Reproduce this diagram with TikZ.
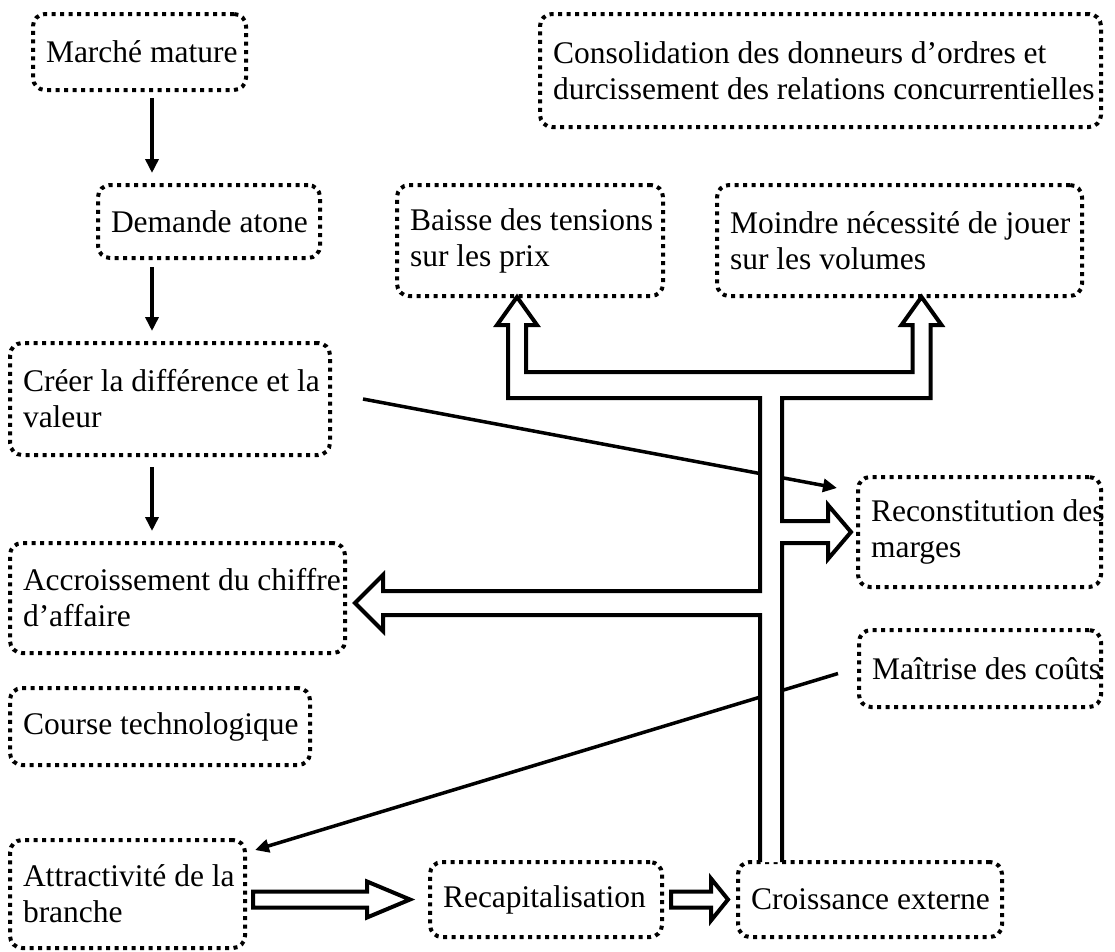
\documentclass[tikz,border=0pt]{standalone}
\usepackage{fontspec}
\setmainfont{Liberation Serif}
\usetikzlibrary{arrows.meta,calc}
\hyphenpenalty=10000
\exhyphenpenalty=10000

\begin{document}
\begin{tikzpicture}[x=1pt,y=-1pt,>={Triangle[length=14pt,width=13pt]},
  box/.style={draw,line width=4pt,dash pattern=on 4pt off 4.5pt,rounded corners=12pt,
    align=flush left,inner xsep=13pt,inner ysep=4pt,outer sep=0pt,anchor=north west,
    font=\fontsize{31.5}{36}\selectfont,
    execute at begin node={\spaceskip=\fontdimen2\font\relax}},
  link/.style={->,line width=3.5pt},
  fat/.style={line width=4pt,fill=white,line join=miter}]
  \useasboundingbox (0,0) rectangle (1115,951);
  % ---- boxes, left column (text width = box width - 26)
  \node[box,text width=187pt,minimum height=76pt] (marche) at (33,14) {Marché~mature};
  \node[box,text width=196pt,minimum height=73pt] (demande) at (98,185) {Demande~atone};
  \node[box,text width=294pt,minimum height=112pt] (creer) at (10,343) {Créer~la~différence~et~la\\valeur};
  \node[box,text width=309pt,minimum height=110pt] (accr) at (10,543) {Accroissement~du~chiffre\\d’affaire};
  \node[box,text width=274pt,minimum height=77pt] (course) at (10,688) {Course~technologique};
  \node[box,text width=209pt,minimum height=108pt] (attract) at (10,840) {Attractivité~de~la\\branche};
  % ---- boxes, right part
  \node[box,text width=535pt,minimum height=113pt] (consol) at (540,14) {Consolidation~des~donneurs~d’ordres~et\\durcissement~des~relations~concurrentielles};
  \node[box,text width=240pt,minimum height=111pt] (baisse) at (397,185) {Baisse~des~tensions\\sur~les~prix};
  \node[box,text width=339pt,minimum height=111pt] (moindre) at (717,185) {Moindre~nécessité~de~jouer\\sur~les~volumes};
  \node[box,text width=217pt,minimum height=110pt] (recon) at (858,477) {Reconstitution~des\\marges};
  \node[box,text width=216pt,minimum height=77pt] (maitrise) at (859,630) {Maîtrise~des~coûts};
  \node[box,text width=206pt,minimum height=75pt] (recap) at (430,862) {Recapitalisation};
  \node[box,text width=238pt,minimum height=75pt] (croiss) at (738,862) {Croissance~externe};
  % ---- plain arrows
  \coordinate (vx) at (152,0);
  \draw[link,shorten <=8pt,shorten >=12pt] (vx |- marche.south) -- (vx |- demande.north);
  \draw[link,shorten <=9pt,shorten >=12pt] (vx |- demande.south) -- (vx |- creer.north);
  \draw[link,shorten <=12pt,shorten >=12pt] (vx |- creer.south) -- (vx |- accr.north);
  \draw[link] ($(creer.east)+(33,0)$) -- ($(recon.north west)+(-21,11)$);
  \draw[link] ($(maitrise.west)+(-21,5)$) -- ($(attract.north east)+(10,10)$);
  % ---- open arrows along the bottom
  \coordinate (a1) at ($(attract.east |- recap.west)+(8,0)$);
  \coordinate (t1) at ($(recap.west)+(-20,0)$);
  \draw[fat] ($(a1)+(0,-8)$) -- ($(t1)+(-43,-8)$) -- ($(t1)+(-43,-18)$) -- (t1)
    -- ($(t1)+(-43,18)$) -- ($(t1)+(-43,8)$) -- ($(a1)+(0,8)$) -- cycle;
  \coordinate (a2) at ($(recap.east)+(9,0)$);
  \coordinate (t2) at ($(croiss.west)+(-10,0)$);
  \draw[fat] ($(a2)+(0,-8)$) -- ($(t2)+(-17,-8)$) -- ($(t2)+(-17,-21)$) -- (t2)
    -- ($(t2)+(-17,21)$) -- ($(t2)+(-17,8)$) -- ($(a2)+(0,8)$) -- cycle;
  % ---- open tree of arrows out of Croissance externe
  \coordinate (sL) at ($(croiss.north west)+(22,0)$);
  \coordinate (sR) at ($(croiss.north west)+(44,0)$);
  \coordinate (tAC) at ($(accr.east)+(10,5)$);
  \coordinate (tRC) at ($(recon.west)+(-7,0)$);
  \coordinate (tBP) at ($(baisse.south)+(-13,1)$);
  \coordinate (tMV) at ($(moindre.south)+(22,1)$);
  \coordinate (bar) at ($(tBP)+(0,88)$);
  \draw[fat] (sL) -- ($(sL |- tAC)+(0,12)$) -- ($(tAC)+(28,12)$) -- ($(tAC)+(28,28)$)
    -- (tAC) -- ($(tAC)+(28,-28)$) -- ($(tAC)+(28,-12)$) -- ($(sL |- tAC)+(0,-12)$)
    -- ($(sL |- bar)+(0,13)$) -- ($(bar)+(-9,13)$) -- ($(tBP)+(-9,28)$) -- ($(tBP)+(-20,28)$)
    -- (tBP) -- ($(tBP)+(20,28)$) -- ($(tBP)+(9,28)$) -- ($(bar)+(9,-13)$)
    -- ($(tMV |- bar)+(-9,-13)$) -- ($(tMV)+(-9,28)$) -- ($(tMV)+(-20,28)$)
    -- (tMV) -- ($(tMV)+(20,28)$) -- ($(tMV)+(9,28)$) -- ($(tMV |- bar)+(9,13)$)
    -- ($(sR |- bar)+(0,13)$) -- ($(sR |- tRC)+(0,-11)$) -- ($(tRC)+(-23,-11)$) -- ($(tRC)+(-23,-27)$)
    -- (tRC) -- ($(tRC)+(-23,27)$) -- ($(tRC)+(-23,11)$) -- ($(sR |- tRC)+(0,11)$) -- (sR);
\end{tikzpicture}
\end{document}
